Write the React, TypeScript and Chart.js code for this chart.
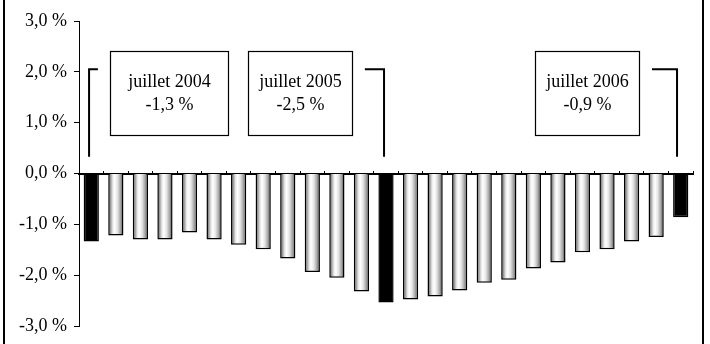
import React, { useEffect, useRef } from "react";
import { Chart, registerables } from "chart.js";

Chart.register(...registerables);

const months = [
  "juil. 2004", "août 2004", "sept. 2004", "oct. 2004", "nov. 2004", "déc. 2004",
  "janv. 2005", "févr. 2005", "mars 2005", "avr. 2005", "mai 2005", "juin 2005",
  "juil. 2005", "août 2005", "sept. 2005", "oct. 2005", "nov. 2005", "déc. 2005",
  "janv. 2006", "févr. 2006", "mars 2006", "avr. 2006", "mai 2006", "juin 2006",
  "juil. 2006",
];
const values = [
  -1.34, -1.22, -1.3, -1.3, -1.16, -1.3, -1.4, -1.49, -1.67, -1.94, -2.05, -2.32,
  -2.54, -2.48, -2.42, -2.3, -2.15, -2.09, -1.87, -1.75, -1.55, -1.49, -1.34, -1.25,
  -0.86,
];
const highlighted = [0, 12, 24];
const yTicks = [-3, -2, -1, 0, 1, 2, 3];

const boxTitles = ["juillet 2004", "juillet 2005", "juillet 2006"];
const boxValues = ["-1,3 %", "-2,5 %", "-0,9 %"];
// box extents in category-index units and value units
const boxX0 = [0.76, 6.38, 18.07];
const boxX1 = [5.57, 10.62, 22.3];
const boxYTop = 2.4;
const boxYBottom = 0.75;
// brackets: vertical line x, stub end x (index units)
const bracketX = [-0.09, 11.92, 23.85];
const bracketStubX = [0.27, 11.14, 22.83];
const bracketTop = 2.05;
const bracketBottom = 0.33;

const fmt = (v: number) => v.toFixed(1).replace(".", ",") + " %";

export default function App() {
  const ref = useRef<HTMLCanvasElement | null>(null);

  useEffect(() => {
    const canvas = ref.current;
    if (!canvas) return;

    const idxPx = (chart: any, i: number) => {
      const xs = chart.scales.x;
      const w = (xs.right - xs.left) / months.length;
      return xs.left + (i + 0.5) * w;
    };

    const framePlugin = {
      id: "frame",
      afterDraw(chart: any) {
        const ctx = chart.ctx;
        ctx.save();
        ctx.fillStyle = "#000";
        ctx.fillRect(3, 0, 2, chart.height);
        ctx.fillRect(702, 0, 2, chart.height);
        ctx.restore();
      },
    };

    const annotPlugin = {
      id: "annot",
      afterDraw(chart: any) {
        const ctx = chart.ctx;
        const ys = chart.scales.y;
        ctx.save();
        ctx.strokeStyle = "#000";
        ctx.lineWidth = 1.5;
        for (let k = 0; k < boxTitles.length; k++) {
          const x0 = Math.round(idxPx(chart, boxX0[k])) + 0.5;
          const x1 = Math.round(idxPx(chart, boxX1[k])) + 0.5;
          const y0 = Math.round(ys.getPixelForValue(boxYTop)) + 0.5;
          const y1 = Math.round(ys.getPixelForValue(boxYBottom)) + 0.5;
          ctx.fillStyle = "#fff";
          ctx.fillRect(x0, y0, x1 - x0, y1 - y0);
          ctx.lineWidth = 1.2;
          ctx.strokeRect(x0, y0, x1 - x0, y1 - y0);
          ctx.fillStyle = "#000";
          ctx.font = '18px "Liberation Serif", "Times New Roman", serif';
          ctx.textAlign = "center";
          ctx.textBaseline = "middle";
          const cx = (x0 + x1) / 2;
          const cy = (y0 + y1) / 2;
          ctx.fillText(boxTitles[k], cx, cy - 11);
          ctx.fillText(boxValues[k], cx, cy + 12);

          // bracket
          const bx = idxPx(chart, bracketX[k]);
          const sx = idxPx(chart, bracketStubX[k]);
          const by0 = ys.getPixelForValue(bracketTop);
          const by1 = ys.getPixelForValue(bracketBottom);
          ctx.lineWidth = 2;
          ctx.beginPath();
          ctx.moveTo(sx, by0);
          ctx.lineTo(bx, by0);
          ctx.lineTo(bx, by1);
          ctx.stroke();
        }
        ctx.restore();
      },
    };

    const barFill = (c: any) => {
      const i = c.dataIndex;
      if (highlighted.includes(i)) return "#000";
      const chart = c.chart;
      const xs = chart.scales.x;
      if (!xs || !isFinite(xs.left) || xs.right <= xs.left) return "#ccc";
      const w = (xs.right - xs.left) / months.length;
      const cx = xs.left + (i + 0.5) * w;
      const half = (w * 0.62) / 2;
      const g = chart.ctx.createLinearGradient(cx - half, 0, cx + half, 0);
      g.addColorStop(0, "#3a3a3a");
      g.addColorStop(0.12, "#8a8a8a");
      g.addColorStop(0.3, "#e8e8e8");
      g.addColorStop(0.42, "#ffffff");
      g.addColorStop(0.6, "#e6e6e6");
      g.addColorStop(0.8, "#a8a8a8");
      g.addColorStop(1, "#404040");
      return g;
    };

    const chart = new Chart(canvas, {
      type: "bar",
      data: {
        labels: months,
        datasets: [
          {
            data: values,
            backgroundColor: barFill as any,
            borderColor: "#000",
            borderWidth: 1.5,
            categoryPercentage: 1,
            barPercentage: 0.62,
          },
        ],
      },
      options: {
        responsive: false,
        animation: false,
        events: [],
        layout: { padding: { top: 21, bottom: 18, left: 0, right: 17 } },
        plugins: {
          legend: { display: false },
          tooltip: { enabled: false },
          title: { display: false },
        },
        scales: {
          x: {
            type: "category",
            position: { y: 0 } as any,
            ticks: { display: false },
            grid: {
              display: true,
              drawOnChartArea: false,
              drawTicks: true,
              tickLength: -4,
              offset: true,
              color: "#000",
              lineWidth: 1,
            },
            border: { display: true, color: "#000", width: 2 },
          },
          y: {
            min: -3,
            max: 3,
            afterFit(scale: any) {
              scale.width = 79;
            },
            afterBuildTicks(scale: any) {
              scale.ticks = yTicks.map((v) => ({ value: v }));
            },
            ticks: {
              callback: (v: any) => fmt(Number(v)),
              color: "#000",
              padding: 7,
              font: { family: '"Liberation Serif", "Times New Roman", serif', size: 18 },
            },
            grid: {
              drawOnChartArea: false,
              drawTicks: true,
              tickLength: 5,
              color: "#000",
              lineWidth: 1,
            },
            border: { display: true, color: "#000", width: 1 },
          },
        },
      },
      plugins: [framePlugin, annotPlugin],
    });

    return () => chart.destroy();
  }, []);

  return (
    <div style={{ position: "fixed", left: 0, top: 0, width: 710, height: 344, background: "#fff" }}>
      <canvas ref={ref} width={710} height={344} style={{ display: "block", width: 710, height: 344 }} />
    </div>
  );
}
